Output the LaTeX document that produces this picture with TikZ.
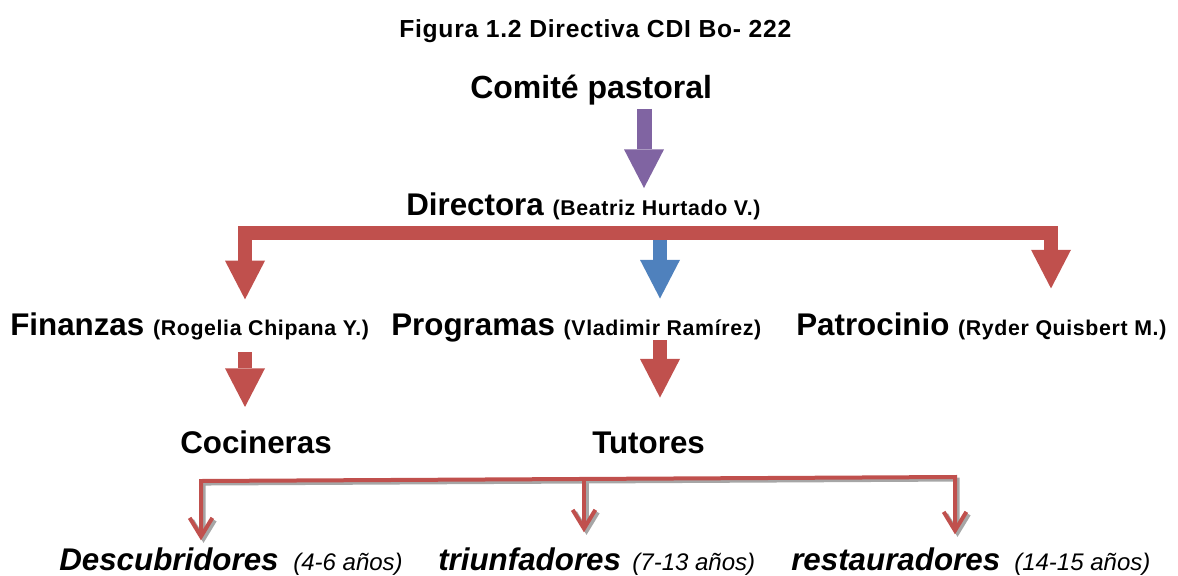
\documentclass[tikz,border=0pt]{standalone}
\usepackage{fontspec}
\setmainfont{Liberation Sans}
\newfontfamily\titulofont[LetterSpace=3]{Liberation Sans}
\newfontfamily\chicofont[LetterSpace=3]{Liberation Sans}
\usetikzlibrary{arrows.meta}

\definecolor{rojo}{HTML}{C0504D}
\definecolor{azul}{HTML}{4F81BD}
\definecolor{morado}{HTML}{8064A2}
\definecolor{sombra}{HTML}{A6A6A6}

\newcommand{\grande}{\fontsize{23.5pt}{28pt}\selectfont\bfseries}
\newcommand{\chico}{\chicofont\fontsize{16pt}{19pt}\selectfont\bfseries}
\newcommand{\edad}{\fontsize{18pt}{21pt}\selectfont\mdseries\itshape}

\tikzset{
  punta/.tip={Triangle[width=30pt,length=29pt,line width=0pt]},
  barba/.tip={Straight Barb[width=17pt,length=14pt]},
  texto/.style={anchor=base west, inner xsep=0pt, inner ysep=3pt, font=\grande},
  flecha/.style={line width=10.5pt, -punta},
  fina/.style={line width=3pt, line join=miter},
}

\begin{document}
\begin{tikzpicture}[x=0.75pt,y=-0.75pt]
\useasboundingbox (0,0) rectangle (1178,575);

% nombres
\node[texto, font=\titulofont\fontsize{18.5pt}{22pt}\selectfont\bfseries] (titulo) at (399,37) {Figura 1.2 Directiva CDI Bo- 222};
\node[texto, font=\fontsize{24pt}{28pt}\selectfont\bfseries] (comite) at (470,98) {Comité pastoral};
\node[texto] (dir) at (406,215) {Directora {\chico (Beatriz Hurtado V.)}};
\node[texto] (fin) at (10,335) {Finanzas {\chico (Rogelia Chipana Y.)}};
\node[texto] (prog) at (391,335) {Programas {\chico (Vladimir Ramírez)}};
\node[texto] (pat) at (796,335) {Patrocinio {\chico (Ryder Quisbert M.)}};
\node[texto] (coc) at (180,453) {Cocineras};
\node[texto] (tut) at (592,453) {Tutores};
\node[texto] (desc) at (59,570) {\itshape Descubridores\hspace{4.5pt} {\edad (4-6 años)}};
\node[texto] (triu) at (438,570) {\itshape triunfadores\hspace{2pt} {\edad (7-13 años)}};
\node[texto] (rest) at (791,570) {\itshape restauradores\hspace{4pt} {\edad (14-15 años)}};

% barras
\coordinate (xm) at (644,0);
\coordinate (bi1) at (245,232.5);
\coordinate (bc1) at (660,232.5);
\coordinate (bd1) at (1051,232.5);
\coordinate (bi2) at (201,481);
\coordinate (bm2) at (584,479);
\coordinate (bd2) at (955,477);

\draw[flecha, morado, line width=11.25pt] (comite.south -| xm) -- (dir.north -| xm);
\draw[flecha, azul, shorten >=8pt] (bc1) -- (prog.north -| bc1);
\draw[flecha, rojo, punta-punta, shorten <=6.5pt, shorten >=14.7pt] (fin.north -| bi1) -- (bi1) -- (bd1) -- (pat.north -| bd1);
\draw[flecha, rojo, shorten <=6.4pt, shorten >=14.3pt] (fin.south -| bi1) -- (coc.north -| bi1);
\draw[flecha, rojo, shorten <=-4.2pt, shorten >=22.2pt] (prog.south -| bc1) -- (tut.north -| bc1);

% tutores, con sombra
\foreach \capa/\dd in {sombra/1.9pt, rojo/0pt}{
  \begin{scope}[transform canvas={xshift=\dd, yshift=-\dd}]
    \draw[fina, \capa, barba-barba, shorten <=2pt, shorten >=6.5pt] (desc.north -| bi2) -- (bi2) -- (bd2) -- (rest.north -| bd2);
    \draw[fina, \capa, -barba, shorten >=8pt] (bm2) -- (triu.north -| bm2);
  \end{scope}
}
\end{tikzpicture}
\end{document}
